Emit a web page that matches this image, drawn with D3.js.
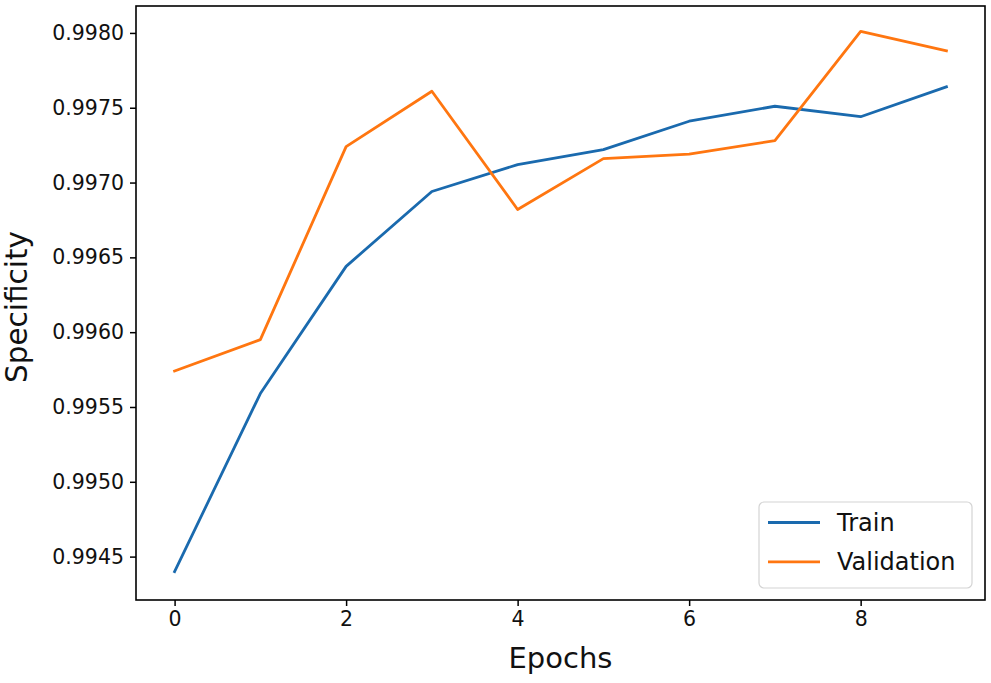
<!DOCTYPE html>
<html>
<head>
<meta charset="utf-8">
<script src="https://cdn.jsdelivr.net/npm/d3@7"></script>
<style>
  html, body { margin: 0; padding: 0; background: #fff; }
  svg { display: block; font-family: "DejaVu Sans", sans-serif; }
</style>
</head>
<body>
<svg id="chart" width="991" height="683"></svg>
<script>
const epochs = [0, 1, 2, 3, 4, 5, 6, 7, 8, 9];
const trainValues = [0.99440, 0.99559, 0.99644, 0.99694, 0.99712, 0.99722, 0.99741, 0.99751, 0.99744, 0.99764];
const validationValues = [0.99574, 0.99595, 0.99724, 0.99761, 0.99682, 0.99716, 0.99719, 0.99728, 0.99801, 0.99788];
const xTicks = [0, 2, 4, 6, 8];
const yTicks = [0.9945, 0.9950, 0.9955, 0.9960, 0.9965, 0.9970, 0.9975, 0.9980];
const seriesNames = ["Train", "Validation"];
const seriesColors = ["#1a6aae", "#ff7610"];

const svg = d3.select("#chart");
const L = 136, R = 985, T = 6, B = 600;

const x = d3.scaleLinear().domain([-0.45, 9.45]).range([L, R]);
const y = d3.scaleLinear().domain([0.99421, 0.99818]).range([B, T]);

// axes
const xAxis = svg.append("g").attr("transform", `translate(0,${B})`)
  .call(d3.axisBottom(x).tickValues(xTicks).tickFormat(d3.format("d")).tickSize(6).tickPadding(5));
const yAxis = svg.append("g").attr("transform", `translate(${L},0)`)
  .call(d3.axisLeft(y).tickValues(yTicks).tickFormat(d3.format(".4f")).tickSize(6).tickPadding(6));
[xAxis, yAxis].forEach(g => {
  g.select(".domain").remove();
  g.selectAll(".tick line").attr("stroke", "#000").attr("stroke-width", 1.5);
  g.selectAll(".tick text").attr("fill", "#111").style("font-size", "20.5px").style("font-family", "DejaVu Sans");
});

// frame
svg.append("rect").attr("x", L).attr("y", T).attr("width", R - L).attr("height", B - T)
  .attr("fill", "none").attr("stroke", "#000").attr("stroke-width", 1.6);

// lines
const line = d3.line().x((d, i) => x(epochs[i])).y(d => y(d));
[trainValues, validationValues].forEach((vals, k) => {
  svg.append("path").datum(vals).attr("d", line)
    .attr("fill", "none").attr("stroke", seriesColors[k]).attr("stroke-width", 2.8)
    .attr("stroke-linejoin", "round").attr("stroke-linecap", "square");
});

// axis labels
svg.append("text").attr("x", (L + R) / 2).attr("y", 668).attr("text-anchor", "middle")
  .style("font-size", "29px").attr("fill", "#111").text("Epochs");
svg.append("text").attr("transform", `translate(27,${(T + B) / 2 + 4}) rotate(-90)`).attr("text-anchor", "middle")
  .style("font-size", "29.5px").attr("fill", "#111").text("Specificity");

// legend
const lg = svg.append("g");
lg.append("rect").attr("x", 759).attr("y", 502).attr("width", 213).attr("height", 86)
  .attr("rx", 5).attr("fill", "#fff").attr("fill-opacity", 0.8).attr("stroke", "#d4d4d4").attr("stroke-width", 1.2);
seriesNames.forEach((name, k) => {
  const yy = 522.5 + k * 39.3;
  lg.append("line").attr("x1", 768).attr("x2", 820).attr("y1", yy).attr("y2", yy)
    .attr("stroke", seriesColors[k]).attr("stroke-width", 2.8);
  lg.append("text").attr("x", 837).attr("y", yy + 8).style("font-size", "24px").attr("fill", "#111").text(name);
});
</script>
</body>
</html>
